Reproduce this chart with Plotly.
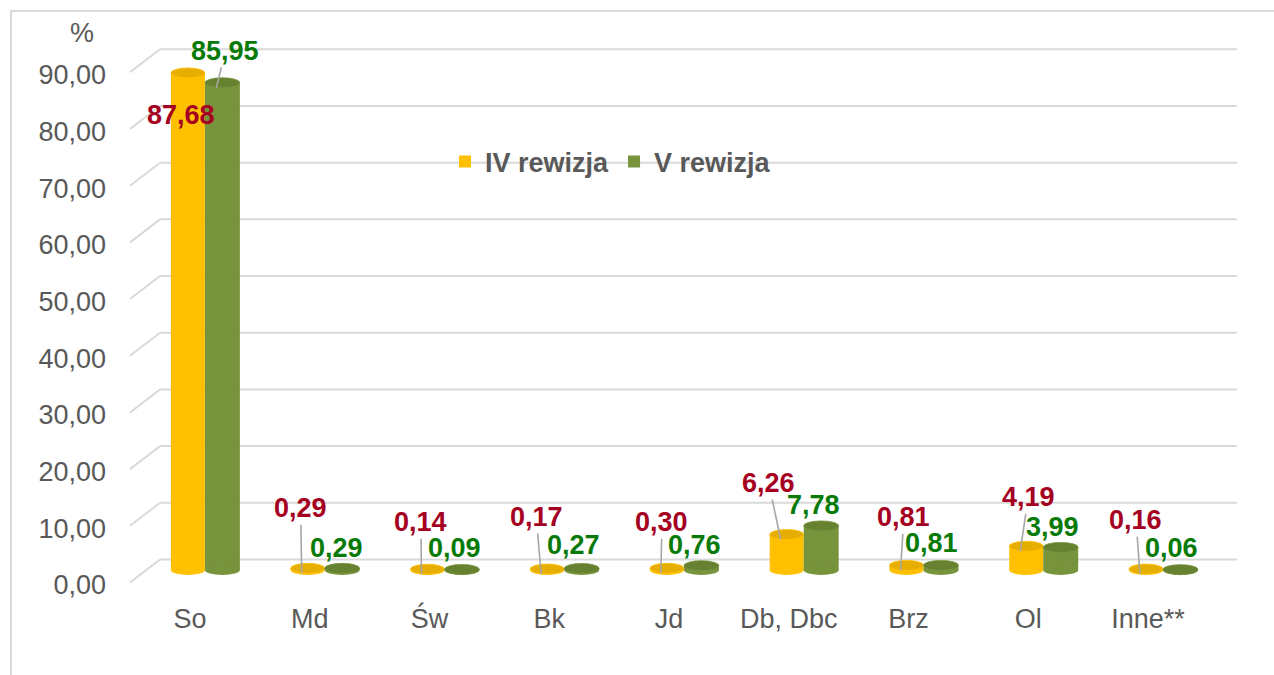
import plotly.graph_objects as go

# ---------------- data ----------------
categories = ["So", "Md", "Św", "Bk", "Jd", "Db, Dbc", "Brz", "Ol", "Inne**"]
iv_values = [87.68, 0.29, 0.14, 0.17, 0.30, 6.26, 0.81, 4.19, 0.16]
v_values = [85.95, 0.29, 0.09, 0.27, 0.76, 7.78, 0.81, 3.99, 0.06]
series_names = ["IV rewizja", "V rewizja"]
y_ticks = [0, 10, 20, 30, 40, 50, 60, 70, 80, 90]
y_unit_label = "%"

# ---------------- style / layout constants ----------------
W, H = 1274, 675
M_L, M_R, M_T, M_B = 160, 37, 40, 75
PLOT_W = W - M_L - M_R
PLOT_H = H - M_T - M_B
PX_PER_UNIT = 5.669
ZERO_PX_FROM_BOTTOM = 30          # bar plane zero line above plot bottom
Y_MIN = -ZERO_PX_FROM_BOTTOM / PX_PER_UNIT
Y_MAX = Y_MIN + PLOT_H / PX_PER_UNIT
BACK_SHIFT = 10.5 / PX_PER_UNIT   # back wall is higher than the bar plane
FRONT_SHIFT = 12.5 / PX_PER_UNIT  # front edge (labels) is lower
DEPTH_PX = 30

X_MIN, X_MAX = -0.25, 8.743
IV_OFF, IV_W = -0.159, 0.284
V_OFF, V_W = 0.125, 0.292

IV_SIDE, IV_TOP = "#FFC000", "#E6AE00"
V_SIDE, V_TOP = "#77933C", "#66812F"
RED, GREEN = "#A50021", "#087A08"
GRID = "#D9D9D9"
TXT = "#595959"
FONT = "Liberation Sans, Arial, sans-serif"
FS = 27

# label offsets in px relative to bar top centre (dx right, dy down)
iv_label_dx = [-7, -7, -6.5, -11, -5, -18, -2.5, 2, -10]
iv_label_dy = [42, -60, -47, -52, -46, -51.5, -48, -49, -49]
iv_leader = [False, True, True, True, True, True, True, True, True]
v_label_dx = [3, -6, -7, -8, -6.5, -8, -9, -8, -8.5]
v_label_dy = [-32, -20, -21.5, -23.5, -21, -21, -22.5, -20.5, -21.5]
v_leader = [True, False, False, False, False, False, False, False, False]
TIP_DX, TIP_DY = -6, 5

def fmt(v):
    return f"{v:.2f}".replace(".", ",")

fig = go.Figure()
fig.add_trace(go.Bar(x=categories, y=iv_values, name=series_names[0],
                     offset=IV_OFF, width=IV_W,
                     marker=dict(color=IV_SIDE, line=dict(width=0)),
                     hovertemplate="%{x}: %{y:.2f}<extra>" + series_names[0] + "</extra>"))
fig.add_trace(go.Bar(x=categories, y=v_values, name=series_names[1],
                     offset=V_OFF, width=V_W,
                     marker=dict(color=V_SIDE, line=dict(width=0)),
                     hovertemplate="%{x}: %{y:.2f}<extra>" + series_names[1] + "</extra>"))

shapes = []
# back-wall gridlines and the short diagonal side-wall segments
for t in y_ticks:
    shapes.append(dict(type="line", xref="paper", yref="y", x0=0, x1=1,
                       y0=t + BACK_SHIFT, y1=t + BACK_SHIFT,
                       line=dict(color=GRID, width=2), layer="below"))
    shapes.append(dict(type="line", xref="paper", yref="y",
                       x0=-DEPTH_PX / PLOT_W, x1=0,
                       y0=t - FRONT_SHIFT, y1=t + BACK_SHIFT,
                       line=dict(color=GRID, width=2), layer="below"))

# cylinder ends (base and top ellipses)
for i in range(len(categories)):
    for vals, off, w, side, top in ((iv_values, IV_OFF, IV_W, IV_SIDE, IV_TOP),
                                    (v_values, V_OFF, V_W, V_SIDE, V_TOP)):
        shapes.append(dict(type="circle", xref="x", yref="y",
                           x0=i + off, x1=i + off + w,
                           ysizemode="pixel", yanchor=0, y0=-5, y1=5,
                           fillcolor=side, line=dict(width=0), layer="above"))
        shapes.append(dict(type="circle", xref="x", yref="y",
                           x0=i + off, x1=i + off + w,
                           ysizemode="pixel", yanchor=vals[i], y0=-5, y1=5,
                           fillcolor=top, line=dict(color=side, width=0.8),
                           layer="above"))

# chart border
shapes.append(dict(type="rect", xref="paper", yref="paper",
                   x0=(11 - M_L) / PLOT_W, x1=1.3,
                   y0=-0.3, y1=(H - M_B - 11) / PLOT_H,
                   line=dict(color=GRID, width=2), fillcolor="rgba(0,0,0,0)",
                   layer="below"))

annotations = []
for i in range(len(categories)):
    for vals, off, w, dxs, dys, lead, col in (
            (iv_values, IV_OFF, IV_W, iv_label_dx, iv_label_dy, iv_leader, RED),
            (v_values, V_OFF, V_W, v_label_dx, v_label_dy, v_leader, GREEN)):
        base = dict(xref="x", yref="y", x=i + off + w / 2, y=vals[i],
                    text=fmt(vals[i]),
                    font=dict(family=FONT, size=FS, color=col, weight="bold"))
        if lead[i]:
            base.update(showarrow=True, arrowhead=0, arrowwidth=1.6,
                        arrowcolor="#A6A6A6", standoff=0,
                        xshift=TIP_DX, yshift=-TIP_DY,
                        ax=dxs[i] - TIP_DX, ay=dys[i] - TIP_DY)
        else:
            base.update(showarrow=False, xshift=dxs[i], yshift=-dys[i])
        annotations.append(base)

annotations.append(dict(xref="paper", yref="paper",
                        x=(82 - M_L) / PLOT_W, y=(H - M_B - 33) / PLOT_H,
                        xanchor="center", yanchor="middle",
                        text=y_unit_label, showarrow=False,
                        font=dict(family=FONT, size=FS, color=TXT)))

fig.update_layout(
    width=W, height=H,
    margin=dict(l=M_L, r=M_R, t=M_T, b=M_B),
    paper_bgcolor="white", plot_bgcolor="white",
    barmode="overlay",
    separators=", ",
    font=dict(family=FONT, size=FS, color=TXT),
    shapes=shapes, annotations=annotations,
    showlegend=True,
    legend=dict(orientation="h", x=(445 - M_L) / PLOT_W, xanchor="left",
                y=(H - M_B - 162) / PLOT_H, yanchor="middle",
                bgcolor="rgba(0,0,0,0)",
                font=dict(family=FONT, size=FS, color=TXT, weight="bold")),
    xaxis=dict(type="category", range=[X_MIN, X_MAX], showgrid=False,
               zeroline=False, showline=False, ticks="",
               tickfont=dict(family=FONT, size=FS, color=TXT)),
    yaxis=dict(range=[Y_MIN, Y_MAX], tickvals=y_ticks, tickformat=".2f",
               showgrid=False, zeroline=False, showline=False, ticks="",
               ticklabelshift=15, ticklabelstandoff=53,
               tickfont=dict(family=FONT, size=FS, color=TXT)),
)

fig.write_html("out.html", config={"displayModeBar": False},
               post_script="document.body.style.margin='0';")
